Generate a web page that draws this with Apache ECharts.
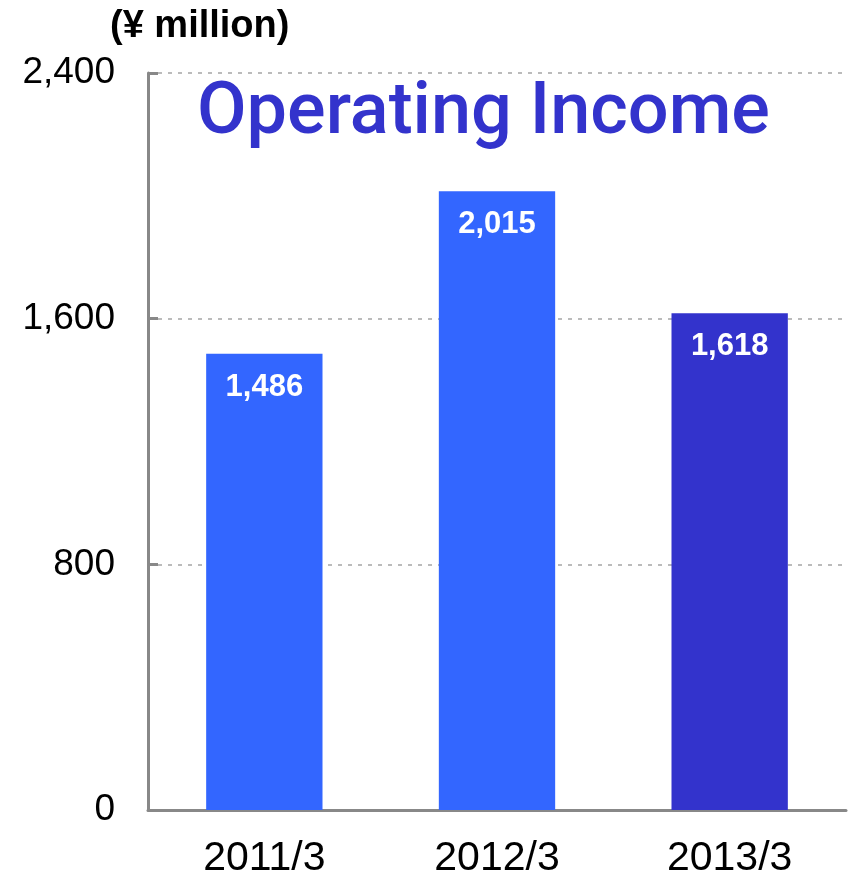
<!DOCTYPE html>
<html>
<head>
<meta charset="utf-8">
<script src="https://cdn.jsdelivr.net/npm/echarts@6/dist/echarts.min.js"></script>
<style>
  html, body { margin: 0; padding: 0; background: #fff; }
  #chart { width: 850px; height: 880px; }
</style>
</head>
<body>
<div id="chart"></div>
<script>
// Fiscal years and operating income (¥ million)
const categories = ['2011/3', '2012/3', '2013/3'];
const operatingIncome = [1486, 2015, 1618];
const barColors = ['#3366FF', '#3366FF', '#3333CC'];
const yTicks = [0, 800, 1600, 2400];

const chart = echarts.init(document.getElementById('chart'));

chart.setOption({
  backgroundColor: '#ffffff',
  animation: false,
  grid: { left: 148, right: 4, top: 73, bottom: 70, containLabel: false },
  graphic: [
    {
      type: 'text',
      left: 110,
      top: 8,
      style: {
        text: '(¥ million)',
        font: 'bold 38px "Liberation Sans", Arial, sans-serif',
        fill: '#000'
      }
    },
    {
      type: 'text',
      left: 197,
      top: 79,
      style: {
        text: 'Operating Income',
        font: '500 72px Roboto, "Noto Sans", sans-serif',
        fill: '#3333CC'
      }
    }
  ],
  xAxis: {
    type: 'category',
    data: categories,
    axisLine: { show: true, lineStyle: { color: '#888888', width: 3 } },
    axisTick: { show: false },
    axisLabel: {
      color: '#000',
      fontSize: 41,
      fontFamily: '"Liberation Sans", Arial, sans-serif',
      margin: 28
    }
  },
  yAxis: {
    type: 'value',
    min: yTicks[0],
    max: yTicks[yTicks.length - 1],
    interval: 800,
    axisLine: { show: true, lineStyle: { color: '#888888', width: 3 } },
    axisTick: { show: true, inside: true, length: 10, lineStyle: { color: '#888888', width: 3 } },
    axisLabel: {
      color: '#000',
      fontSize: 37,
      fontFamily: '"Liberation Sans", Arial, sans-serif',
      margin: 33,
      formatter: v => v.toLocaleString('en-US')
    },
    splitLine: {
      show: true,
      lineStyle: { color: '#BBBBBB', width: 2, type: [4, 6] }
    }
  },
  series: [
    {
      type: 'bar',
      barWidth: '50%',
      data: operatingIncome.map((v, i) => ({ value: v, itemStyle: { color: barColors[i] } })),
      label: {
        show: true,
        position: 'insideTop',
        distance: 18,
        color: '#fff',
        fontSize: 31,
        fontWeight: 'bold',
        fontFamily: '"Liberation Sans", Arial, sans-serif',
        formatter: p => p.value.toLocaleString('en-US')
      }
    }
  ]
});
</script>
</body>
</html>
